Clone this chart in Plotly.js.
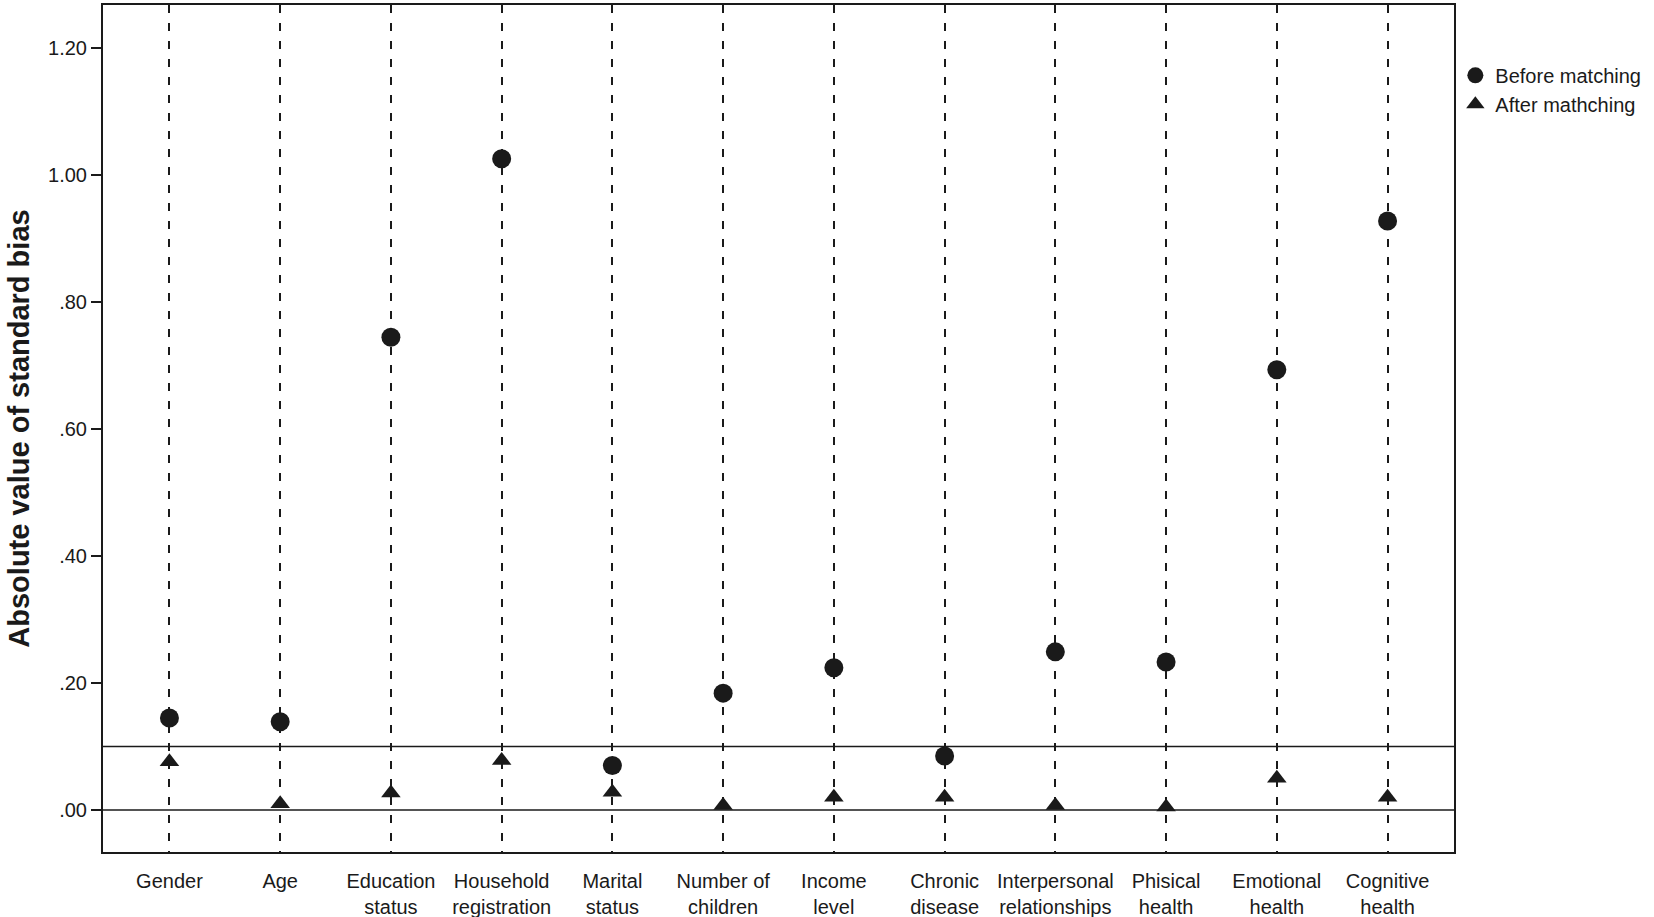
<!DOCTYPE html>
<html>
<head>
<meta charset="utf-8">
<script src="https://cdn.plot.ly/plotly-3.0.1.min.js"></script>
<style>html,body{margin:0;padding:0;background:#fff;}#chart{width:1654px;height:917px;}</style>
</head>
<body>
<div id="chart"></div>
<script>
var categories = ["Gender","Age","Education<br>status","Household<br>registration","Marital<br>status","Number of<br>children","Income<br>level","Chronic<br>disease","Interpersonal<br>relationships","Phisical<br>health","Emotional<br>health","Cognitive<br>health"];
var beforeMatching = [0.145, 0.139, 0.744, 1.025, 0.070, 0.184, 0.224, 0.085, 0.249, 0.233, 0.693, 0.927];
var afterMatching = [0.076, 0.010, 0.027, 0.078, 0.028, 0.007, 0.020, 0.020, 0.007, 0.005, 0.050, 0.020];
var yTickVals = [0, 0.2, 0.4, 0.6, 0.8, 1.0, 1.2];
var yTickText = [".00", ".20", ".40", ".60", ".80", "1.00", "1.20"];
var refLines = [0, 0.1];
var seriesNames = ["Before matching", "After mathching"];

var xIdx = categories.map(function(_, i){ return i; });

var traces = [
  {x: xIdx, y: beforeMatching, type: 'scatter', mode: 'markers', name: seriesNames[0],
   marker: {symbol: 'circle', size: 19, color: '#1a1a1a'}},
  {x: xIdx, y: afterMatching, type: 'scatter', mode: 'markers', name: seriesNames[1],
   marker: {symbol: 'triangle-up', size: 17, color: '#1a1a1a'}}
];

var shapes = refLines.map(function(v){
  return {type: 'line', xref: 'paper', x0: 0, x1: 1, yref: 'y', y0: v, y1: v,
          line: {color: '#1a1a1a', width: 1.6}};
});

var layout = {
  width: 1654, height: 917,
  margin: {l: 103, r: 200, t: 5, b: 65},
  paper_bgcolor: '#fff', plot_bgcolor: '#fff',
  font: {family: 'Liberation Sans, Arial, sans-serif', color: '#1a1a1a', size: 18},
  showlegend: true,
  legend: {x: 1.001, xanchor: 'left', y: 0.94, yanchor: 'top', font: {size: 20},
           bgcolor: 'rgba(0,0,0,0)', itemwidth: 30, tracegroupgap: 0},
  xaxis: {
    range: [-0.6, 11.6],
    tickvals: xIdx, ticktext: categories,
    showgrid: true, gridcolor: '#1a1a1a', griddash: '8px,10px', gridwidth: 2,
    zeroline: false, showline: true, mirror: true, linecolor: '#1a1a1a', linewidth: 2,
    ticks: '', ticklabelstandoff: 10,
    tickfont: {size: 20, family: 'Liberation Sans, Arial, sans-serif'}
  },
  yaxis: {
    range: [-0.066, 1.267],
    tickvals: yTickVals, ticktext: yTickText,
    showgrid: false, zeroline: false, showline: true, mirror: true,
    linecolor: '#1a1a1a', linewidth: 2,
    ticks: 'outside', ticklen: 10, tickwidth: 1.6, tickcolor: '#1a1a1a',
    tickfont: {size: 20},
    title: {text: '<b>Absolute value of standard bias</b>', standoff: 10,
            font: {size: 29, family: 'Liberation Sans Narrow, Arial Narrow, Liberation Sans, sans-serif'}}
  },
  shapes: shapes
};

Plotly.newPlot('chart', traces, layout, {displayModeBar: false});
</script>
</body>
</html>
